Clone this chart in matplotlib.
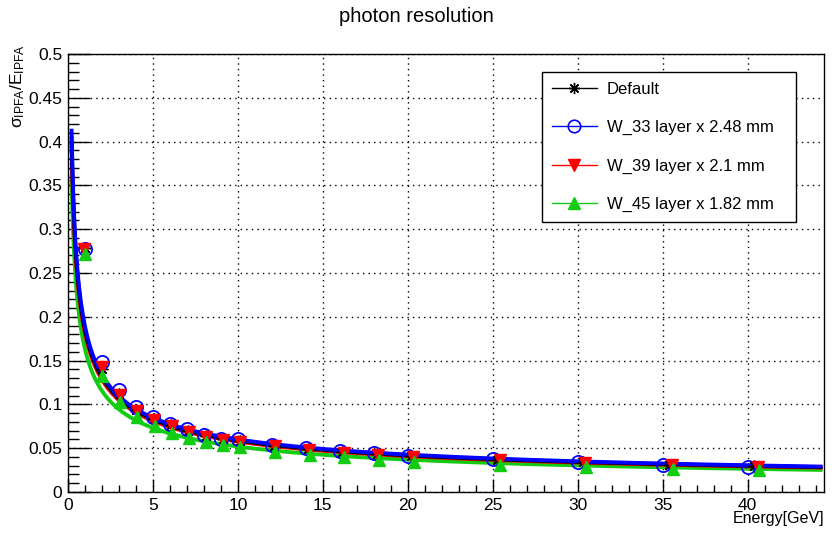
import numpy as np
import matplotlib
matplotlib.use("Agg")
import matplotlib.pyplot as plt
from matplotlib.lines import Line2D
from matplotlib.ticker import MultipleLocator, FormatStrFormatter

plt.rcParams['font.family'] = ['Liberation Sans', 'DejaVu Sans']
plt.rcParams['mathtext.fontset'] = 'custom'
plt.rcParams['mathtext.rm'] = 'Liberation Sans'
plt.rcParams['mathtext.it'] = 'Liberation Sans'

# measured points (energy in GeV, sigma/E)
energy_w33 = [1, 2, 3, 4, 5, 6, 7, 8, 9, 10, 12, 14, 16, 18, 20, 25, 30, 35, 40]
energy_default = [1.0, 2.0, 3.0, 4.0, 5.05, 6.05, 7.05, 8.1, 9.1, 10.1, 12.1, 14.15,
                  16.15, 18.2, 20.2, 25.25, 30.3, 35.35, 40.4]
energy_w39 = [0.95, 2.0, 3.05, 4.05, 5.05, 6.1, 7.1, 8.1, 9.15, 10.15, 12.2, 14.2,
              16.25, 18.25, 20.3, 25.4, 30.45, 35.55, 40.6]
energy_w45 = [1.0, 2.0, 3.05, 4.05, 5.1, 6.1, 7.1, 8.15, 9.15, 10.15, 12.2, 14.25,
              16.25, 18.3, 20.35, 25.4, 30.5, 35.6, 40.7]

res_default = [0.278, 0.140, 0.112, 0.094, 0.083, 0.076, 0.070, 0.064, 0.060, 0.058,
               0.053, 0.049, 0.046, 0.043, 0.041, 0.037, 0.034, 0.031, 0.030]
res_w33 = [0.277, 0.148, 0.116, 0.097, 0.086, 0.078, 0.072, 0.065, 0.061, 0.060,
           0.054, 0.050, 0.047, 0.044, 0.041, 0.038, 0.034, 0.031, 0.029]
res_w39 = [0.277, 0.143, 0.111, 0.093, 0.082, 0.075, 0.069, 0.063, 0.059, 0.057,
           0.052, 0.048, 0.045, 0.042, 0.040, 0.036, 0.0335, 0.031, 0.029]
res_w45 = [0.272, 0.132, 0.103, 0.086, 0.075, 0.067, 0.062, 0.057, 0.054, 0.051,
           0.046, 0.042, 0.040, 0.0365, 0.034, 0.031, 0.028, 0.026, 0.025]

# fit parameters: sigma/E = a/sqrt(E) (+) b
fit_a = {'default': 0.185, 'w33': 0.189, 'w39': 0.181, 'w45': 0.163}
fit_b = {'default': 0.006, 'w33': 0.006, 'w39': 0.006, 'w45': 0.006}
fit_range = (0.21, 44.3)

labels = {'default': 'Default', 'w33': 'W_33 layer x 2.48 mm',
          'w39': 'W_39 layer x 2.1 mm', 'w45': 'W_45 layer x 1.82 mm'}
colors = {'default': 'black', 'w33': '#0000ff', 'w39': '#ff0000', 'w45': '#11cc11'}
markers = {'default': (8, 2, 0), 'w33': 'o', 'w39': 'v', 'w45': '^'}
points = {'default': (energy_default, res_default), 'w33': (energy_w33, res_w33),
          'w39': (energy_w39, res_w39), 'w45': (energy_w45, res_w45)}

fig = plt.figure(figsize=(8.33, 5.35), dpi=100)
ax = fig.add_axes([68 / 833, 1 - 492 / 535, (824 - 68) / 833, (492 - 54) / 535])

e_fit = np.linspace(fit_range[0], fit_range[1], 800)
for key in ['w45', 'w39', 'default', 'w33']:
    f = np.sqrt((fit_a[key] / np.sqrt(e_fit)) ** 2 + fit_b[key] ** 2)
    ax.plot(e_fit, f, color=colors[key], lw=2.8, zorder=2)

for key in ['default', 'w33', 'w39', 'w45']:
    x, y = points[key]
    if key == 'w33':
        ax.plot(x, y, ls='none', marker='o', ms=9.5, mfc='none', mec=colors[key],
                mew=1.3, zorder=3)
    elif key == 'default':
        ax.plot(x, y, ls='none', marker=markers[key], ms=8.5, color='black',
                mew=1.0, zorder=3)
    else:
        ax.plot(x, y, ls='none', marker=markers[key], ms=8.5, color=colors[key],
                mec=colors[key], zorder=3)

ax.set_xlim(0, 44.5)
ax.set_ylim(0, 0.5)
ax.xaxis.set_major_locator(MultipleLocator(5))
ax.xaxis.set_minor_locator(MultipleLocator(1))
ax.yaxis.set_major_locator(MultipleLocator(0.05))
ax.yaxis.set_minor_locator(MultipleLocator(0.01))
ax.yaxis.set_major_formatter(FormatStrFormatter('%g'))
ax.xaxis.set_major_formatter(FormatStrFormatter('%g'))
ax.tick_params(axis='both', which='both', direction='in', labelsize=12.5,
               top=False, right=False, width=1)
ax.tick_params(axis='y', which='major', length=16, pad=4)
ax.tick_params(axis='y', which='minor', length=8)
ax.tick_params(axis='x', which='major', length=9.5, pad=4)
ax.tick_params(axis='x', which='minor', length=4.7)
ax.grid(True, which='major', color='black', ls=(0, (1, 3)), lw=1)
for s in ax.spines.values():
    s.set_linewidth(1)

fig.text(0.5, 1 - 17 / 535, 'photon resolution', ha='center', va='center', fontsize=14.5)
fig.text(824 / 833, 1 - 519 / 535, 'Energy[GeV]', ha='right', va='center', fontsize=11.5)
fig.text(18 / 833, 1 - 44 / 535, r'$\sigma_{\mathrm{IPFA}}/\mathrm{E}_{\mathrm{IPFA}}$',
         rotation=90, ha='center', va='top', fontsize=12.5)

handles = []
for key in ['default', 'w33', 'w39', 'w45']:
    if key == 'w33':
        h = Line2D([], [], color=colors[key], lw=1, marker='o', ms=9, mfc='none',
                   mec=colors[key], mew=1.2)
    else:
        h = Line2D([], [], color=colors[key], lw=1, marker=markers[key], ms=8,
                   mfc=colors[key], mec=colors[key])
    handles.append(h)
leg = ax.legend(handles, [labels[k] for k in ['default', 'w33', 'w39', 'w45']],
                loc='upper left',
                bbox_to_anchor=(541.7 / 833, 1 - 219 / 535, (795.7 - 541.7) / 833,
                                (219 - 71.7) / 535),
                bbox_transform=fig.transFigure, mode='expand', borderaxespad=0,
                fontsize=12, labelspacing=1.4, handlelength=2.7, handletextpad=0.6,
                borderpad=0.6, fancybox=False, framealpha=1, edgecolor='black')
leg.get_frame().set_linewidth(1)

fig.savefig('out.png', dpi=100)
